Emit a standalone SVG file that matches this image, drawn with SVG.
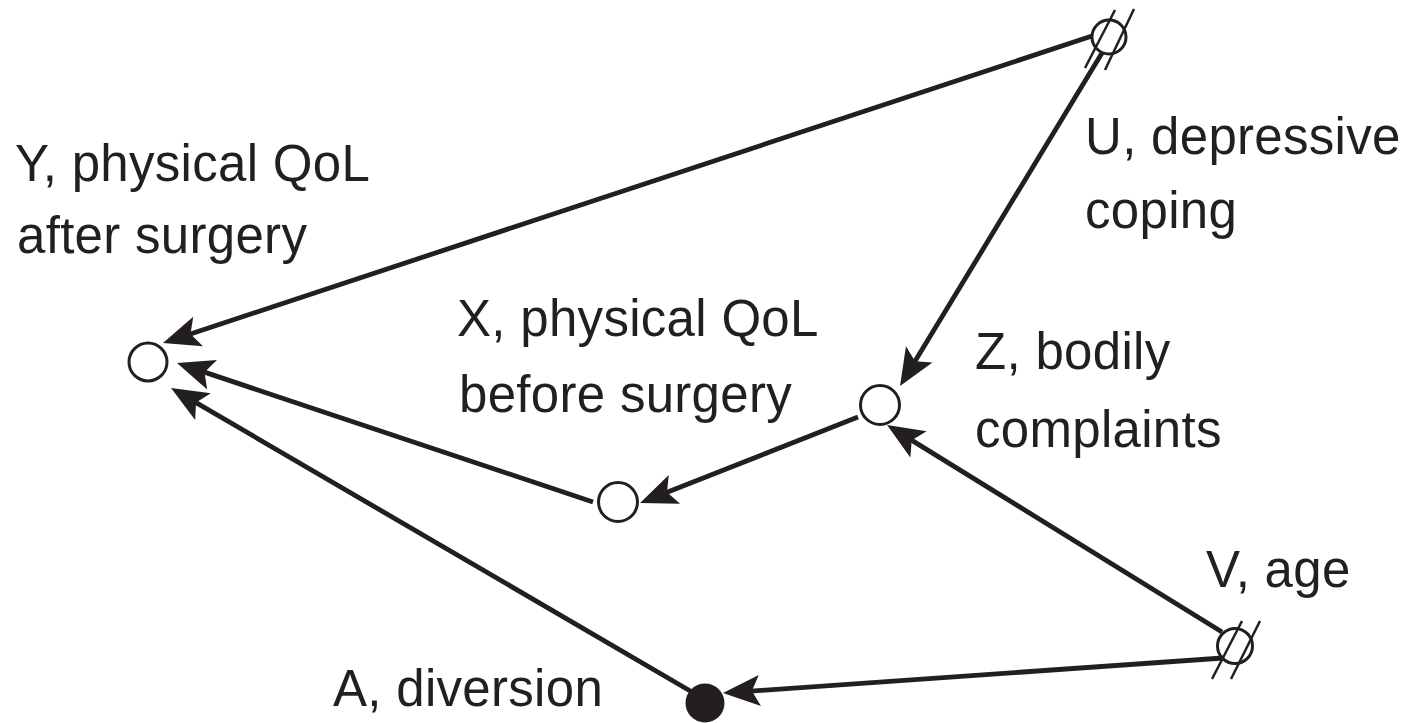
<svg xmlns="http://www.w3.org/2000/svg" width="1406" height="723" viewBox="0 0 1406 723">
<style>
.lbl{font-family:"Liberation Sans",Arial,Helvetica,sans-serif;font-size:51px;letter-spacing:0.3px;fill:#231f20}
.node{fill:#fff;stroke:#231f20;stroke-width:3}
.hollow{fill:none;stroke:#231f20;stroke-width:3}
.filled{fill:#231f20;stroke:none}
.slash{stroke:#231f20;stroke-width:2.5;fill:none}
.edge{stroke:#231f20;stroke-width:4.8;fill:none;marker-end:url(#arr)}
</style>
<defs>
<marker id="arr" markerUnits="userSpaceOnUse" orient="auto" refX="0" refY="0" markerWidth="60" markerHeight="40" viewBox="-15 -20 45 40" overflow="visible">
<path d="M25,0 L-12,-15.5 L-4,0 L-12,15.5 Z" fill="#231f20"/>
</marker>
</defs>
<rect width="1406" height="723" fill="#fff"/>
<g id="connectors">
<path class="edge" d="M1092,36 L186.7,335.2"/>
<path class="edge" d="M1102,53 L913,364.6"/>
<path class="edge" d="M858,417 L663.3,493.8"/>
<path class="edge" d="M593,502 L200.7,370.9"/>
<path class="edge" d="M692,692 L192.6,400.6"/>
<path class="edge" d="M1222,632 L908.3,438.1"/>
<path class="edge" d="M1223,658 L747.9,691.3"/>
</g>
<g id="node-Y">
<circle class="node" cx="148" cy="362" r="19"/>
<text class="lbl" x="15" y="181">Y, physical QoL</text>
<text class="lbl" x="17" y="253">after surgery</text>
</g>
<g id="node-U">
<circle class="hollow" cx="1109" cy="37" r="17"/>
<line class="slash" x1="1085" y1="68" x2="1115" y2="10"/>
<line class="slash" x1="1105" y1="70" x2="1134" y2="9"/>
<text class="lbl" x="1085" y="154">U, depressive</text>
<text class="lbl" x="1085" y="228">coping</text>
</g>
<g id="node-X">
<circle class="node" cx="618" cy="502" r="19.5"/>
<text class="lbl" x="457" y="336">X, physical QoL</text>
<text class="lbl" x="459" y="412">before surgery</text>
</g>
<g id="node-Z">
<circle class="node" cx="880" cy="405" r="19.5"/>
<text class="lbl" x="975" y="369">Z, bodily</text>
<text class="lbl" x="975" y="447">complaints</text>
</g>
<g id="node-V">
<circle class="hollow" cx="1235" cy="646" r="17.5"/>
<line class="slash" x1="1212" y1="679" x2="1242" y2="621"/>
<line class="slash" x1="1231" y1="679" x2="1260" y2="621"/>
<text class="lbl" x="1206" y="587">V, age</text>
</g>
<g id="node-A">
<circle class="filled" cx="705" cy="703" r="19.5"/>
<text class="lbl" x="333" y="706">A, diversion</text>
</g>
</svg>
